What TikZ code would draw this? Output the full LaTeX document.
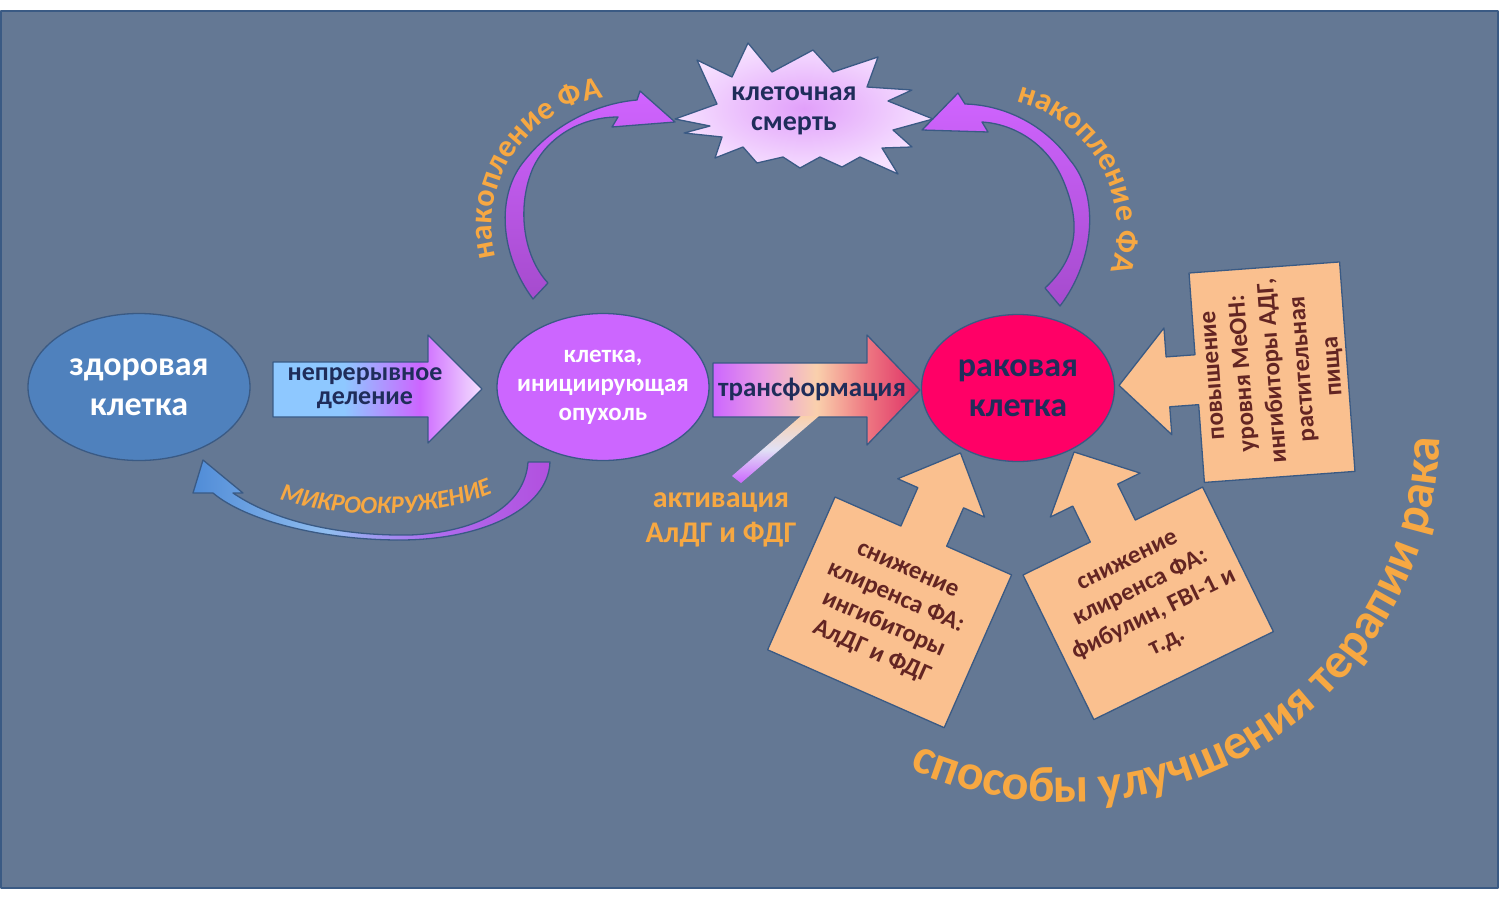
\documentclass[tikz,border=0pt]{standalone}
\usepackage{fontspec}
\setmainfont{Carlito}
\usetikzlibrary{shapes.geometric,decorations.text}
\definecolor{bg}{RGB}{100,120,148}
\definecolor{bline}{RGB}{58,90,132}
\definecolor{healthy}{RGB}{79,129,189}
\definecolor{vio}{RGB}{204,102,255}
\definecolor{crim}{RGB}{255,0,102}
\definecolor{navy}{RGB}{31,45,90}
\definecolor{peach}{RGB}{250,192,143}
\definecolor{maroon}{RGB}{99,37,35}
\definecolor{ora}{RGB}{247,168,66}
\definecolor{lblue}{RGB}{142,200,255}
\definecolor{lav}{RGB}{245,225,255}
\definecolor{pinkish}{RGB}{232,155,228}
\definecolor{peachl}{RGB}{250,208,172}
\definecolor{salmon}{RGB}{238,120,130}
\definecolor{crimd}{RGB}{222,45,100}
\definecolor{mblue}{RGB}{80,140,215}
\definecolor{lblue2}{RGB}{145,190,240}
\definecolor{mvio}{RGB}{175,110,240}
\definecolor{dvio}{RGB}{178,80,222}
\definecolor{barmid}{RGB}{225,225,245}
\definecolor{arrtop}{RGB}{208,100,255}
\definecolor{arrbot}{RGB}{165,75,205}
\definecolor{burstin}{RGB}{225,160,250}
\definecolor{burstout}{RGB}{246,225,255}
\pgfdeclarehorizontalshading{divgrad}{100bp}{color(0bp)=(lblue); color(25bp)=(lblue); color(42bp)=(lblue); color(60bp)=(vio); color(75bp)=(lav); color(100bp)=(lav)}
\pgfdeclarehorizontalshading{trgrad}{100bp}{color(0bp)=(vio); color(25bp)=(vio); color(37bp)=(pinkish); color(50bp)=(peachl); color(62bp)=(salmon); color(75bp)=(crimd); color(100bp)=(crimd)}
\pgfdeclarehorizontalshading{micgrad}{100bp}{color(0bp)=(mblue); color(25bp)=(mblue); color(44bp)=(lblue2); color(58bp)=(mvio); color(75bp)=(dvio); color(100bp)=(dvio)}
\newcommand\accfmt{\fontsize{32}{32}\selectfont\bfseries\color{ora}}
\newcommand\micfmt{\fontsize{25}{25}\selectfont\bfseries\itshape\color{ora}}
\newcommand\bigfmt{\fontsize{50}{50}\selectfont\bfseries\color{ora}}
\begin{document}
\begin{tikzpicture}[x=1pt,y=-1pt,line join=round,
  cell/.style={ellipse, draw=bline, line width=1.3, inner sep=0},
  celltext/.style={align=center, font=\bfseries\fontsize{34}{40}\selectfont},
  blockarrow/.style={draw=bline, line width=1.3},
  callout/.style={fill=peach, draw=bline, line width=1.3},
  calltext/.style={align=center, text=maroon, font=\bfseries\fontsize{25}{30}\selectfont},
  oralabel/.style={align=center, text=ora, font=\bfseries\fontsize{30}{35}\selectfont}]
\useasboundingbox (0,0) rectangle (1500,900);
\fill[white] (0,0) rectangle (1500,900);
\draw[bline, fill=bg, line width=2] (1,11) rectangle (1498,888);

% curved arrows to cell death
\shadedraw[blockarrow, top color=arrtop, bottom color=arrbot] (533,299) .. controls (500,255) and (495,195) .. (525,160) .. controls (555,122) and (600,103) .. (637,100) -- (640,91) -- (675,122) -- (612,127) -- (618,117) .. controls (582,117) and (548,136) .. (533,168) .. controls (517,205) and (522,255) .. (548,283) -- cycle;
\shadedraw[blockarrow, top color=arrtop, bottom color=arrbot] (1060,306) .. controls (1095,260) and (1100,195) .. (1070,160) .. controls (1045,125) and (1005,105) .. (965,104) -- (958,93) -- (922,130) -- (988,132) -- (982,122) .. controls (1015,124) and (1050,145) .. (1065,185) .. controls (1082,228) and (1075,260) .. (1045,288) -- cycle;

% cell death burst
\shadedraw[blockarrow, inner color=burstin, outer color=burstout] (675,119) -- (717,104) -- (697,60) -- (732,77) -- (748,43) -- (772,72) -- (813,50) -- (833,72) -- (878,57) -- (867,87) -- (912,90) -- (888,101) -- (933,119) -- (893,130) -- (912,147) -- (882,148) -- (898,174) -- (860,157) -- (842,167) -- (820,157) -- (800,168) -- (783,157) -- (757,163) -- (743,147) -- (715,158) -- (722,137) -- (684,133) -- (710,126) -- cycle;
\node[align=center, text=navy, font=\bfseries\fontsize{28}{30}\selectfont] (death) at (794,111) {клеточная\\смерть};

% accumulation labels
\path[decorate, decoration={text along path, text align=center, text={|\accfmt|накопление ФА}}] (499.7,268.8) arc[start angle=160, end angle=268, radius=128];
\path[decorate, decoration={text along path, text align=center, text={|\accfmt|накопление ФА}}] (1012.4,100.9) arc[start angle=-78, end angle=20, radius=132];

% cells
\node[cell, fill=healthy, minimum width=222, minimum height=147] (healthy) at (139,387) {};
\node[celltext, text=white] (healthylabel) at (healthy.center) {здоровая\\клетка};
\node[cell, fill=vio, minimum width=212, minimum height=147] (init) at (603,387) {};
\node[celltext, text=white, font=\bfseries\fontsize{25}{29}\selectfont] (initlabel) at (init.center) {клетка,\\инициирующая\\опухоль};
\node[cell, fill=crim, minimum width=193, minimum height=147] (cancer) at (1018,388) {};
\node[celltext, text=navy] (cancerlabel) at (cancer.center) {раковая\\клетка};

% division arrow
\shadedraw[blockarrow, shading=divgrad] (273,362) -- (428,362) -- (428,335) -- (482,389) -- (428,443) -- (428,417) -- (273,417) -- cycle;
\node[align=center, text=navy, font=\bfseries\fontsize{26}{24}\selectfont] (divlabel) at (365,388) {непрерывное\\деление};

% transformation arrow
\shadedraw[blockarrow, shading=trgrad] (713,363) -- (867,363) -- (867,335) -- (920,390) -- (867,445) -- (867,417) -- (713,417) -- cycle;
\shade[top color=peachl, bottom color=vio, middle color=barmid] (732,476) -- (801,416) -- (819,416) -- (741,483) -- cycle;
\node[text=navy, font=\bfseries\fontsize{27}{27}\selectfont] (trlabel) at (812,389) {трансформация};
\node[oralabel] (act) at (721,520) {активация\\АлДГ и ФДГ};

% microenvironment arrow
\shadedraw[blockarrow, shading=micgrad] (528,462) -- (550,462) .. controls (548,510) and (480,540) .. (400,540) .. controls (320,540) and (245,520) .. (213,493) -- (193,493) -- (203,460) -- (243,493) -- (233,493) .. controls (280,525) and (350,536) .. (410,535) .. controls (480,532) and (525,505) .. (528,462) -- cycle;
\path[decorate, decoration={text along path, text align=center, text={|\micfmt|МИКРООКРУЖЕНИЕ}}] (276,498) .. controls (338,519) and (430,521) .. (496,492);

% therapy callouts
\begin{scope}[shift={(1189,273)}, rotate=4.2]
  \filldraw[callout] (0,0) -- (151,0) -- (151,210) -- (0,210) -- (0,132) -- (-29,132) -- (-29,160) -- (-78,107) -- (-29,53) -- (-29,82) -- (0,82) -- cycle;
  \node[calltext, rotate=94.2] (meoh) at (79,104) {повышение\\уровня MeOH:\\ингибиторы АДГ,\\растительная\\пища};
\end{scope}
\begin{scope}[shift={(835,497)}, rotate=-23.8]
  \filldraw[callout] (0,0) -- (72,0) -- (72,-42) -- (50,-42) -- (97,-91) -- (145,-42) -- (122,-42) -- (122,0) -- (193,0) -- (193,167) -- (0,167) -- cycle;
  \node[calltext, rotate=-23.8] (inhib) at (96,84) {снижение\\клиренса ФА:\\ингибиторы\\АлДГ и ФДГ};
\end{scope}
\begin{scope}[shift={(1023,575)}, rotate=26.1]
  \filldraw[callout] (0,0) -- (75,0) -- (75,-40) -- (50,-40) -- (100,-88) -- (150,-40) -- (125,-40) -- (125,0) -- (200,0) -- (200,161) -- (0,161) -- cycle;
  \node[calltext, rotate=26.1] (fib) at (100,80) {снижение\\клиренса ФА:\\фибулин, FBI-1 и\\т.д.};
\end{scope}

% big arc title
\path[decorate, decoration={text along path, text align=center, text={|\bigfmt|способы улучшения терапии рака}}] (918.5,772.7) arc[start angle=113, end angle=3, radius=375];
\end{tikzpicture}
\end{document}
